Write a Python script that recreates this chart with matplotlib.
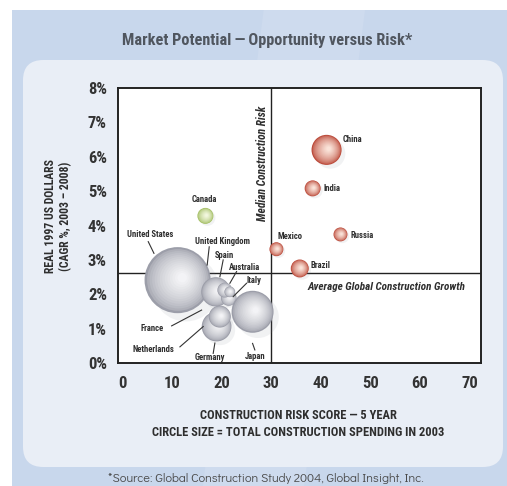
import numpy as np
import matplotlib
matplotlib.use("Agg")
import matplotlib.pyplot as plt
from matplotlib.patches import Rectangle, FancyBboxPatch, Polygon
from matplotlib.colors import to_rgb

# data
countries = ["United States", "Netherlands", "Germany", "France", "United Kingdom",
             "Italy", "Spain", "Australia", "Japan", "Canada",
             "China", "India", "Russia", "Mexico", "Brazil"]
risk_score = [11.2, 18.1, 19.05, 19.7, 18.9, 21.5, 20.7, 21.7, 26.3, 16.8,
              41.2, 38.4, 44.0, 31.1, 35.8]
growth_pct = [2.41, 1.19, 1.06, 1.35, 2.07, 1.89, 2.12, 2.07, 1.49, 4.28,
              6.20, 5.08, 3.74, 3.31, 2.75]
spending = [990, 60, 200, 110, 195, 55, 50, 26, 400, 58,
            205, 58, 44, 44, 73]
group = ["developed"] * 9 + ["canada"] + ["emerging"] * 5

median_risk = 30
avg_growth = 2.63

x_ticks = [0, 10, 20, 30, 40, 50, 60, 70]
y_ticks = [0, 1, 2, 3, 4, 5, 6, 7, 8]

COND = ["Roboto Condensed", "DejaVu Sans"]
TXT = "#2e2e2e"

# colours for the shaded spheres (edge, highlight)
palette = {
    "developed": ("#9c9ea9", "#f7f7f9"),
    "canada": ("#a3be63", "#f6fae4"),
    "emerging": ("#bb4a3a", "#fde9df"),
}

W, H = 507, 486
fig = plt.figure(figsize=(W / 100, H / 100), dpi=100)
fig.patch.set_facecolor("white")

# background panels
fig.patches.append(Rectangle((12 / W, 0), 1, 1 - 10 / H, transform=fig.transFigure,
                             facecolor="#c8d7ec", edgecolor="none", zorder=-5))
fig.patches.append(Polygon([(0.52, 1 - 10 / H), (0.72, 1 - 10 / H), (0.60, 0.0), (0.40, 0.0)],
                           closed=True, transform=fig.transFigure,
                           facecolor="#cedbee", edgecolor="none", zorder=-4))
fig.patches.append(FancyBboxPatch((23 / W, 1 - 467 / H), (503 - 23) / W, (467 - 60) / H,
                                  boxstyle="round,pad=0,rounding_size=0.04",
                                  transform=fig.transFigure, mutation_aspect=W / H,
                                  facecolor="#e9eef6", edgecolor="none", zorder=-3))

ax = fig.add_axes([118 / W, (H - 363) / H, (481 - 118) / W, (363 - 88) / H])
ax.set_facecolor("white")
ax.set_xlim(-0.8, 72.3)
ax.set_ylim(0, 8)
px_x = 4.97     # pixels per x unit
px_y = 34.375   # pixels per y unit

for sp in ax.spines.values():
    sp.set_linewidth(1.4)
    sp.set_color("#222222")

ax.axvline(median_risk, color="#222222", lw=1.0, zorder=1)
ax.axhline(avg_growth, color="#222222", lw=1.0, zorder=1)

# shaded bubbles
n_layers = 14
for x, y, sp_, g in zip(risk_score, growth_pct, spending, group):
    r = 1.05 * np.sqrt(sp_)
    edge, light = np.array(to_rgb(palette[g][0])), np.array(to_rgb(palette[g][1]))
    # soft shadow
    ax.scatter([x + 0.25 * r / px_x], [y - 0.25 * r / px_y], s=(2 * r * 0.72) ** 2,
               color="#7d8090", alpha=0.10, edgecolors="none", zorder=2)
    for k in range(n_layers):
        f = k / n_layers
        rr = r * (1 - 0.92 * f)
        col = edge + (light - edge) * (f ** 0.6)
        ox = 0.15 * r * f / px_x
        oy = 0.08 * r * f / px_y
        ax.scatter([x + ox], [y + oy], s=(2 * rr * 0.72) ** 2, color=col,
                   edgecolors="none", zorder=3)

# labels with leader lines
labels = {
    "United States": ((5.63, 3.75), (5.29, 3.53), (6.44, 3.19)),
    "Canada": ((16.5, 4.76), None, None),
    "United Kingdom": ((20.26, 3.53), (17.57, 3.38), (17.16, 2.85)),
    "Spain": ((20.72, 3.14), (20.38, 3.0), (19.72, 2.51)),
    "Australia": ((24.75, 2.78), (23.08, 2.66), (21.73, 2.32)),
    "Italy": ((26.56, 2.39), (25.09, 2.32), (22.39, 1.93)),
    "France": ((5.98, 1.01), (10.0, 1.08), (16.04, 1.54)),
    "Netherlands": ((6.30, 0.38), (11.67, 0.47), (16.36, 1.06)),
    "Germany": ((17.71, 0.17), (18.37, 0.28), (18.71, 0.58)),
    "Japan": ((26.76, 0.20), (26.76, 0.38), (26.3, 0.57)),
}
for name, (pos, a, b) in labels.items():
    ax.text(pos[0], pos[1], name, ha="center", va="center", fontsize=6.2,
            fontweight="bold", family=COND, color=TXT, zorder=6)
    if a is not None:
        ax.plot([a[0], b[0]], [a[1], b[1]], color="#333333", lw=0.8, zorder=6)

right_labels = {
    "China": (44.53, 6.49),
    "India": (40.64, 5.08),
    "Russia": (46.08, 3.70),
    "Mexico": (31.25, 3.67),
    "Brazil": (37.97, 2.85),
}
for name, pos in right_labels.items():
    ax.text(pos[0], pos[1], name, ha="left", va="center", fontsize=6.2,
            fontweight="bold", family=COND, color=TXT, zorder=6)

ax.text(53.26, 2.22, "Average Global Construction Growth", ha="center", va="center",
        fontsize=8, fontweight="bold", style="italic", family=COND, color=TXT)
ax.text(28.23, 5.82, "Median Construction Risk", ha="center", va="center", rotation=90,
        fontsize=8.3, fontweight="bold", style="italic", family=COND, color=TXT)

# ticks
ax.set_xticks(x_ticks)
ax.set_xticklabels([str(t) for t in x_ticks])
ax.set_yticks(y_ticks)
ax.set_yticklabels([f"{t}%" for t in y_ticks])
ax.tick_params(axis="both", length=0, labelsize=12, colors="#333333")
ax.tick_params(axis="x", pad=9)
ax.tick_params(axis="y", pad=8)
for lab in ax.get_xticklabels() + ax.get_yticklabels():
    lab.set_family(COND)
    lab.set_fontweight("bold")

# titles and axis texts
fig.text(267 / W, 1 - 40 / H, "Market Potential\u2009\u2014\u2009Opportunity versus Risk*",
         ha="center", va="center", fontsize=11.7, fontweight="bold", family=COND,
         color="#50565f")
fig.text(298 / W, 1 - 415 / H, "CONSTRUCTION RISK SCORE \u2014 5 YEAR", ha="center",
         va="center", fontsize=9, fontweight="bold", family=COND, color=TXT)
fig.text(298 / W, 1 - 432 / H, "CIRCLE SIZE = TOTAL CONSTRUCTION SPENDING IN 2003", ha="center",
         va="center", fontsize=9, fontweight="bold", family=COND, color=TXT)
fig.text(51 / W, 1 - 216 / H, "REAL 1997 US DOLLARS", ha="center", va="center", rotation=90,
         fontsize=8.5, fontweight="bold", family=COND, color=TXT)
fig.text(66 / W, 1 - 216 / H, "(CAGR %, 2003 \u2013 2008)", ha="center", va="center", rotation=90,
         fontsize=8.5, fontweight="bold", family=COND, color=TXT)
fig.text(266 / W, 1 - 478 / H, "*Source: Global Construction Study 2004, Global Insight, Inc.",
         ha="center", va="center", fontsize=9, family=["Didact Gothic", "DejaVu Sans"],
         color="#4a4a4a")

fig.savefig("out.png", dpi=100)
